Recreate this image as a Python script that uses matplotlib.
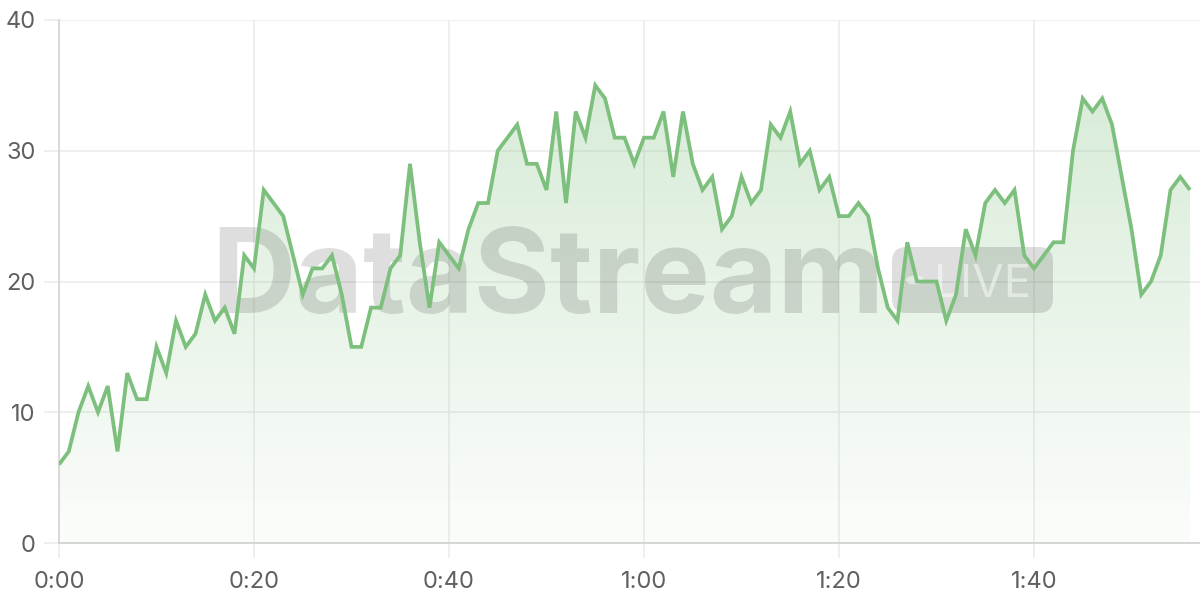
import numpy as np
import matplotlib
matplotlib.use('Agg')
import matplotlib.pyplot as plt
from matplotlib.colors import LinearSegmentedColormap
from matplotlib.patches import FancyBboxPatch, Circle, Polygon

plt.rcParams['font.family'] = ['Inter', 'DejaVu Sans']

# viewers per minute
minutes = list(range(117))
viewers = [6, 7, 10, 12, 10, 12, 7, 13, 11, 11,
           15, 13, 17, 15, 16, 19, 17, 18, 16, 22,
           21, 27, 26, 25, 22, 19, 21, 21, 22, 19,
           15, 15, 18, 18, 21, 22, 29, 23, 18, 23,
           22, 21, 24, 26, 26, 30, 31, 32, 29, 29,
           27, 33, 26, 33, 31, 35, 34, 31, 31, 29,
           31, 31, 33, 28, 33, 29, 27, 28, 24, 25,
           28, 26, 27, 32, 31, 33, 29, 30, 27, 28,
           25, 25, 26, 25, 21, 18, 17, 23, 20, 20,
           20, 17, 19, 24, 22, 26, 27, 26, 27, 22,
           21, 22, 23, 23, 30, 34, 33, 34, 32, 28,
           24, 19, 20, 22, 27, 28, 27]

xticks = [0, 20, 40, 60, 80, 100]
xtick_labels = ['0:00', '0:20', '0:40', '1:00', '1:20', '1:40']
yticks = [0, 10, 20, 30, 40]

green = '#7dbf7d'
W, H = 1200, 600

fig = plt.figure(figsize=(12, 6), dpi=100)
ax = fig.add_axes([59 / W, 57 / H, (W - 59) / W, (543 - 20) / H])

# gradient fill under the line
verts = [(minutes[0], 0)] + list(zip(minutes, viewers)) + [(minutes[-1], 0)]
poly = Polygon(verts, closed=True, facecolor='none', edgecolor='none')
ax.add_patch(poly)
cmap = LinearSegmentedColormap.from_list(
    'g', [(0.49, 0.75, 0.49, 0.03), (0.49, 0.75, 0.49, 0.34)])
grad = np.linspace(0, 1, 256).reshape(-1, 1)
im = ax.imshow(grad, cmap=cmap, extent=[0, minutes[-1], 0, 40],
               origin='lower', aspect='auto', zorder=1)
im.set_clip_path(poly)

ax.plot(minutes, viewers, color=green, lw=2.7, zorder=4,
        solid_joinstyle='miter', solid_capstyle='butt')


# watermark (pixel positions of the image)
def px(x, y):
    return x / W, 1 - y / H


wm = (0, 0, 0, 0.13)
ax.text(*px(211, 313), 'DataStream', transform=fig.transFigure,
        fontsize=84, fontweight='bold', color=wm, va='baseline', ha='left',
        zorder=2, clip_on=False)
bx, by = px(892, 313)
box = FancyBboxPatch((bx, by), (1053 - 892) / W, (313 - 247) / H,
                     boxstyle='round,pad=0,rounding_size=0.012',
                     transform=fig.transFigure, facecolor=wm,
                     edgecolor='none', zorder=2, mutation_aspect=2)
ax.add_patch(box)
ax.add_patch(Circle(px(915, 280), 9 / W, transform=fig.transFigure,
                    facecolor=(1, 1, 1, 0.5), edgecolor='none', zorder=2))
ax.text(*px(934, 297), 'LIVE', transform=fig.transFigure, fontsize=33,
        color=(1, 1, 1, 0.5), va='baseline', ha='left', zorder=2)

ax.set_xlim(0, (W - 59) / 9.75)
ax.set_ylim(0, 40)
ax.set_xticks(xticks)
ax.set_xticklabels(xtick_labels)
ax.set_yticks(yticks)

ax.grid(True, color='#ebebeb', lw=1.1, zorder=0)
ax.set_axisbelow(True)
for s in ['top', 'right']:
    ax.spines[s].set_visible(False)
ax.spines['left'].set_color('#d4d4d4')
ax.spines['bottom'].set_color('#cfcfcf')
ax.spines['left'].set_linewidth(1.2)
ax.spines['bottom'].set_linewidth(1.2)
ax.tick_params(axis='both', length=11, width=1.1, color='#ebebeb',
               labelsize=17, labelcolor='#606060')
ax.tick_params(axis='y', pad=6)
ax.tick_params(axis='x', pad=9)

fig.savefig('out.png', dpi=100)
